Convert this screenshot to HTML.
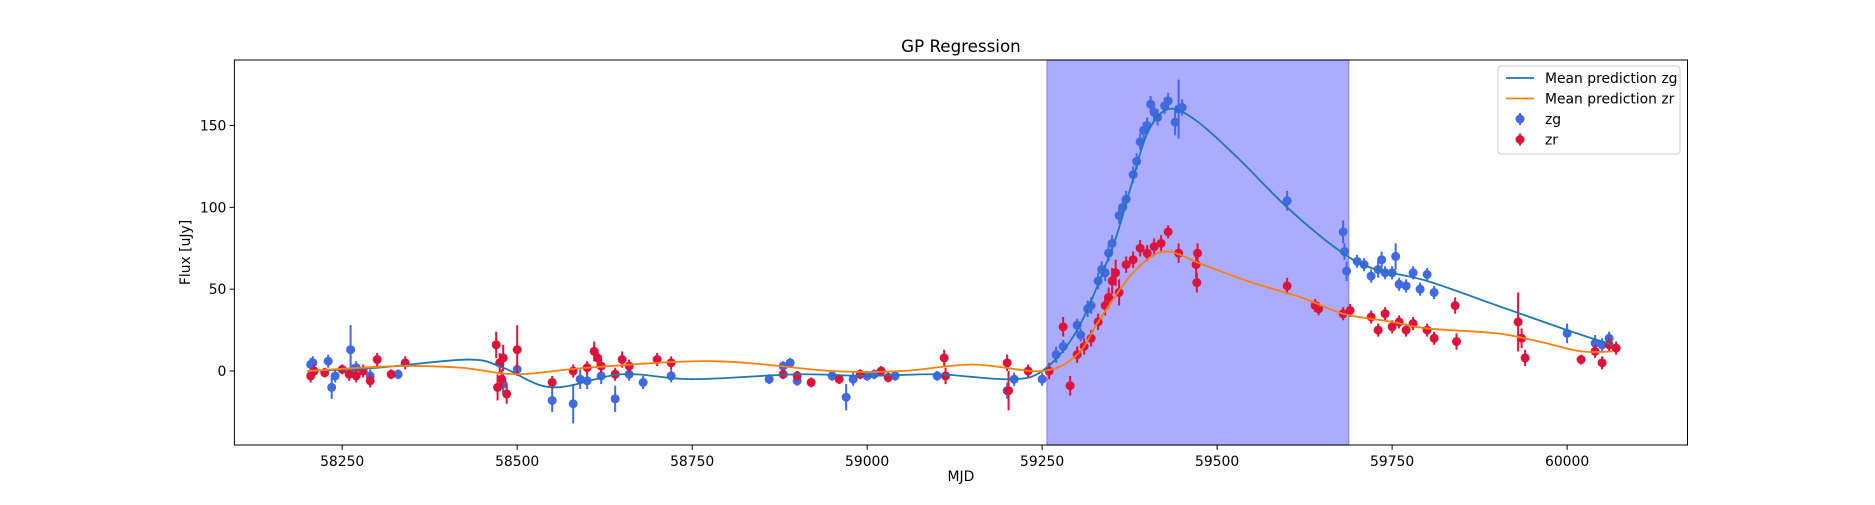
<!DOCTYPE html>
<html><head><meta charset="utf-8"><style>
html,body{margin:0;padding:0;background:#fff;}
svg text{font-family:"DejaVu Sans","Liberation Sans",sans-serif;fill:#000;}
</style></head><body>
<svg id="chart" width="1875" height="500" viewBox="0 0 1875 500" xmlns="http://www.w3.org/2000/svg">
<g id="plot"></g>
</svg>
<script>
const xTicks=[58250,58500,58750,59000,59250,59500,59750,60000];
const yTicks=[0,50,100,150];
const spanRange=[59257,59688];
const meanZgX=[58200,58300,58430,58480,58550,58650,58750,58900,59000,59100,59200,59250,59300,59350,59375,59400,59430,59470,59530,59600,59670,59720,59800,59900,60000,60065];
const meanZgY=[0,2,7,2,-10,-2,-5,-2,-3,-2,-5,0,25,75,110,145,160,153,130,100,75,63,55,40,25,16];
const meanZrX=[58200,58330,58420,58500,58600,58780,58950,59050,59150,59250,59300,59330,59370,59400,59430,59480,59550,59620,59680,59750,59800,59900,59960,60020,60065];
const meanZrY=[0,3,2,-2,2,6,0,0,4,0,10,30,55,68,73,65,54,45,35,30,26,23,18,12,12];
const zgX=[58205,58208,58230,58235,58240,58262,58265,58270,58290,58330,58480,58500,58550,58580,58590,58600,58620,58640,58660,58680,58720,58860,58880,58890,58900,58950,58970,58980,59000,59010,59040,59100,59200,59210,59250,59270,59280,59300,59305,59315,59320,59330,59335,59340,59345,59350,59360,59365,59370,59380,59385,59390,59395,59400,59405,59410,59415,59425,59430,59440,59445,59450,59600,59680,59682,59685,59700,59710,59720,59730,59735,59740,59750,59755,59760,59770,59780,59790,59800,59810,60000,60040,60050,60060];
const zgY=[4,5,6,-10,-3,13,0,2,-3,-2,-8,1,-18,-20,-5,-6,-3,-17,-2,-7,-3,-5,3,5,-6,-3,-16,-5,-3,-2,-3,-3,-12,-5,-5,10,15,28,22,38,40,55,62,60,72,78,95,100,105,120,128,140,147,150,163,158,155,162,165,152,160,161,104,85,73,61,67,65,58,62,68,60,60,70,53,52,60,50,59,48,23,17,16,20];
const zgErr=[4,4,4,7,4,15,4,4,4,3,6,4,7,12,6,5,5,8,4,4,4,3,3,3,3,3,8,4,3,3,3,3,5,4,4,5,4,4,4,5,5,5,5,5,5,5,5,5,5,5,5,5,5,5,5,5,5,5,5,8,18,5,6,7,5,6,4,4,4,5,5,4,4,8,4,4,4,4,4,4,6,5,4,4];
const zrX=[58205,58210,58225,58250,58260,58270,58280,58290,58300,58320,58340,58470,58472,58475,58478,58480,58485,58500,58550,58580,58600,58610,58615,58620,58640,58650,58660,58700,58720,58880,58900,58920,58960,58990,59020,59030,59110,59112,59200,59202,59230,59260,59280,59290,59300,59310,59320,59330,59340,59345,59350,59355,59360,59370,59380,59390,59400,59410,59420,59430,59445,59470,59471,59472,59600,59640,59645,59680,59690,59720,59730,59740,59750,59760,59770,59780,59800,59810,59840,59842,59930,59935,59940,60020,60040,60050,60060,60070];
const zrY=[-3,0,-1,1,-2,-3,0,-6,7,-2,5,16,-10,5,-5,8,-14,13,-7,0,2,12,8,3,-2,7,3,7,5,-2,-3,-7,-5,-2,0,-4,8,-3,5,-12,0,0,27,-9,10,15,20,30,40,45,55,60,48,65,68,75,72,76,78,85,72,65,54,72,52,40,38,35,37,33,25,35,27,30,25,29,25,20,40,18,30,20,8,7,12,5,16,14];
const zrErr=[4,4,3,3,4,4,4,4,4,3,4,8,8,6,6,8,6,15,4,4,4,6,5,4,4,5,4,4,4,3,3,3,3,3,3,3,5,5,5,12,4,5,6,6,5,5,5,5,6,6,8,8,8,5,5,5,5,5,5,4,6,8,6,6,5,4,4,4,4,4,4,4,4,4,4,4,4,4,5,5,18,6,5,3,4,4,4,4];

const L=234.4,R=1687.5,T=60,B=445;
const xmin=58096,xmax=60172,ymin=-45.2,ymax=190;
const sx=v=>L+(v-xmin)/(xmax-xmin)*(R-L);
const sy=v=>B-(v-ymin)/(ymax-ymin)*(B-T);
const NS="http://www.w3.org/2000/svg";
const g=document.getElementById('plot');
function mk(tag,attrs,parent){const e=document.createElementNS(NS,tag);for(const k in attrs)e.setAttribute(k,attrs[k]);(parent||g).appendChild(e);return e;}

let sp=mk('rect',{x:sx(spanRange[0]),y:T,width:sx(spanRange[1])-sx(spanRange[0]),height:B-T,fill:'#ababff',stroke:'#8888f6','stroke-width':1.2});



function pts(X,Y,E,color,name){
  const grp=mk('g',{});
  
  
  for(let i=0;i<X.length;i++){
    const x=sx(X[i]);
    mk('line',{x1:x,x2:x,y1:sy(Y[i]-E[i]),y2:sy(Y[i]+E[i]),stroke:color,'stroke-width':2},grp);
    const c=mk('circle',{cx:x,cy:sy(Y[i]),r:4.5,fill:color},grp);
    
    
  }
}
pts(zgX,zgY,zgErr,'#4169e1','zg');
pts(zrX,zrY,zrErr,'#dc143c','zr');

function curve(X,Y,color,name){
  const P=X.map((x,i)=>[sx(x),sy(Y[i])]);
  let d='M'+P[0][0]+','+P[0][1];
  for(let i=0;i<P.length-1;i++){
    const p0=P[Math.max(0,i-1)],p1=P[i],p2=P[i+1],p3=P[Math.min(P.length-1,i+2)];
    const c1=[p1[0]+(p2[0]-p0[0])/6,p1[1]+(p2[1]-p0[1])/6];
    const c2=[p2[0]-(p3[0]-p1[0])/6,p2[1]-(p3[1]-p1[1])/6];
    d+=' C'+c1+' '+c2+' '+p2;
  }
  const p=mk('path',{d:d,fill:'none',stroke:color,'stroke-width':1.8});
  
  
}
curve(meanZgX,meanZgY,'#1f77b4','mean-prediction-zg');
curve(meanZrX,meanZrY,'#ff7f0e','mean-prediction-zr');

const fr=mk('rect',{x:L,y:T,width:R-L,height:B-T,fill:'none',stroke:'#000','stroke-width':1});



xTicks.forEach(v=>{
  const x=sx(v);
  mk('line',{x1:x,x2:x,y1:B,y2:B+4.9,stroke:'#000','stroke-width':1});
  const t=mk('text',{x:x,y:B+21,'text-anchor':'middle','font-size':13.9});
  t.textContent=v;
  
  
});
yTicks.forEach(v=>{
  const y=sy(v);
  mk('line',{x1:L-4.9,x2:L,y1:y,y2:y,stroke:'#000','stroke-width':1});
  const t=mk('text',{x:L-8,y:y+5,'text-anchor':'end','font-size':13.9});
  t.textContent=v;
  
  
});
let t=mk('text',{x:(L+R)/2,y:481,'text-anchor':'middle','font-size':13.9});t.textContent='MJD';


t=mk('text',{x:0,y:0,'text-anchor':'middle','font-size':13.9,transform:'translate(190,'+((T+B)/2)+') rotate(-90)'});t.textContent='Flux [uJy]';


t=mk('text',{x:(L+R)/2,y:52,'text-anchor':'middle','font-size':16.7});t.textContent='GP Regression';



const lg=mk('g',{});


mk('rect',{x:1498,y:66,width:182,height:88,rx:3,fill:'#fff','fill-opacity':0.8,stroke:'#ccc'},lg);
const items=[['line','#1f77b4','Mean prediction zg'],['line','#ff7f0e','Mean prediction zr'],['pt','#4169e1','zg'],['pt','#dc143c','zr']];
items.forEach((it,i)=>{
  const y=78+i*20.5;
  const e=mk('g',{},lg);
  
  
  if(it[0]==='line')mk('line',{x1:1506,x2:1534,y1:y,y2:y,stroke:it[1],'stroke-width':1.8},e);
  else{mk('line',{x1:1520,x2:1520,y1:y-6,y2:y+6,stroke:it[1],'stroke-width':2},e);mk('circle',{cx:1520,cy:y,r:4.5,fill:it[1]},e);}
  const tx=mk('text',{x:1545,y:y+5,'font-size':13.9},e);tx.textContent=it[2];
});
</script>
</body></html>
